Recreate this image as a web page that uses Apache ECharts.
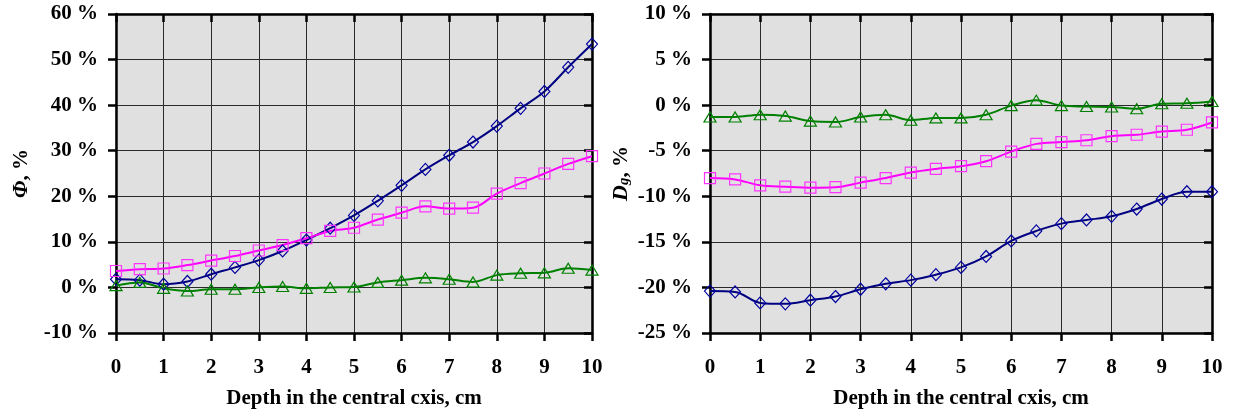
<!DOCTYPE html>
<html>
<head>
<meta charset="utf-8">
<script src="https://cdn.jsdelivr.net/npm/echarts@6/dist/echarts.min.js"></script>
<style>html,body{margin:0;padding:0;background:#fff}#c{width:1233px;height:414px}</style>
</head>
<body>
<div id="c"></div>
<script>
// ---- data ----
const depth = [0,0.5,1,1.5,2,2.5,3,3.5,4,4.5,5,5.5,6,6.5,7,7.5,8,8.5,9,9.5,10];
// left chart: Phi, %
const phiBlue  = [1.8,1.6,0.7,1.3,2.9,4.4,6.0,8.0,10.4,13.0,15.8,19.0,22.4,25.9,29.0,31.9,35.4,39.3,43.0,48.3,53.4];
const phiPink  = [3.6,4.0,4.15,4.9,5.9,6.9,8.1,9.3,10.8,12.4,13.1,14.9,16.4,17.8,17.3,17.5,20.6,22.9,25.0,27.1,28.8];
const phiGreen = [0.4,1.1,-0.2,-0.8,-0.4,-0.4,0.0,0.2,-0.2,0.0,0.1,1.1,1.6,2.1,1.8,1.2,2.7,3.1,3.2,4.2,3.8];
// right chart: Dg, %
const dgBlue  = [-20.4,-20.5,-21.7,-21.8,-21.4,-21.0,-20.2,-19.6,-19.2,-18.6,-17.8,-16.6,-14.9,-13.8,-13.0,-12.6,-12.2,-11.4,-10.3,-9.5,-9.5];
const dgPink  = [-8.0,-8.15,-8.8,-8.95,-9.05,-9.0,-8.5,-8.0,-7.4,-7.0,-6.7,-6.15,-5.1,-4.25,-4.05,-3.85,-3.4,-3.25,-2.9,-2.7,-1.9];
const dgGreen = [-1.3,-1.3,-1.05,-1.2,-1.75,-1.85,-1.3,-1.05,-1.65,-1.4,-1.4,-1.05,-0.05,0.55,-0.05,-0.15,-0.2,-0.4,0.15,0.2,0.4];
const xTicks = {min: 0, max: 10, interval: 1};
const phiTicks = {min: -10, max: 60, interval: 10};
const dgTicks = {min: -25, max: 10, interval: 5};
const xTitle = 'Depth in the central cxis, cm';

const FONT = '"Liberation Serif", "Times New Roman", serif';
const pairs = ys => depth.map((d, i) => [d, ys[i]]);

function xAx(grid, main) {
  return {
    type: 'value', gridIndex: grid, min: xTicks.min, max: xTicks.max, interval: xTicks.interval,
    name: main ? xTitle : '', nameLocation: 'middle', nameGap: 55,
    nameTextStyle: {fontFamily: FONT, fontWeight: 'bold', fontSize: 21, color: '#000'},
    axisLine: {show: true, onZero: false, lineStyle: {color: '#000', width: 2.5}},
    axisTick: {show: true, inside: !main, length: 8, lineStyle: {color: '#000', width: 2.5}},
    axisLabel: {show: main, margin: 24, fontFamily: FONT, fontWeight: 'bold', fontSize: 21, color: '#000'},
    splitLine: {show: main, lineStyle: {color: '#2a2a2a', width: 1}}
  };
}
function yAx(grid, main, t, nameRich, gap) {
  return {
    type: 'value', gridIndex: grid, min: t.min, max: t.max, interval: t.interval,
    name: main ? nameRich : '', nameLocation: 'middle', nameGap: gap, nameRotate: 90,
    nameTextStyle: {
      fontFamily: FONT, fontWeight: 'bold', fontSize: 21, color: '#000',
      rich: {
        i: {fontFamily: FONT, fontWeight: 'bold', fontStyle: 'italic', fontSize: 22, color: '#000', lineHeight: 24, verticalAlign: 'bottom'},
        s: {fontFamily: FONT, fontWeight: 'bold', fontStyle: 'italic', fontSize: 15, color: '#000', lineHeight: 20, verticalAlign: 'bottom'},
        n: {fontFamily: FONT, fontWeight: 'bold', fontSize: 21, color: '#000', lineHeight: 24, verticalAlign: 'bottom'}
      }
    },
    axisLine: {show: true, onZero: false, lineStyle: {color: '#000', width: 2.5}},
    axisTick: {show: true, inside: !main, length: 8, lineStyle: {color: '#000', width: 2.5}},
    axisLabel: {show: main, margin: 18, formatter: '{value} %', fontFamily: FONT, fontWeight: 'bold', fontSize: 21, color: '#000'},
    splitLine: {show: main, lineStyle: {color: '#2a2a2a', width: 1}}
  };
}
function ser(grid, ys, color, symbol, size, border) {
  return {
    type: 'line', xAxisIndex: grid * 2, yAxisIndex: grid * 2, data: pairs(ys),
    smooth: 0.35, symbol: symbol, symbolSize: size, showSymbol: true,
    lineStyle: {color: color, width: 2},
    itemStyle: {color: 'rgba(0,0,0,0)', borderColor: border, borderWidth: 1.2},
    emphasis: {disabled: true}, animation: false, z: 3
  };
}

const chart = echarts.init(document.getElementById('c'), null, {renderer: 'canvas'});
chart.setOption({
  animation: false,
  grid: [
    {left: 116, top: 14, width: 476, height: 320, show: true, backgroundColor: '#e0e0e0', borderColor: '#999', borderWidth: 1},
    {left: 710, top: 14, width: 502, height: 320, show: true, backgroundColor: '#e0e0e0', borderColor: '#999', borderWidth: 1}
  ],
  xAxis: [xAx(0, true), xAx(0, false), xAx(1, true), xAx(1, false)],
  yAxis: [
    yAx(0, true, phiTicks, '{i|Φ}{n|, %}', 84), yAx(0, false, phiTicks, '', 0),
    yAx(1, true, dgTicks, '{i|D}{s|g}{n|, %}', 78), yAx(1, false, dgTicks, '', 0)
  ],
  series: [
    ser(0, phiBlue, '#000080', 'diamond', [11, 12], '#0000a0'),
    ser(0, phiPink, '#ff00ff', 'rect', 11, '#ff33ff'),
    ser(0, phiGreen, '#008000', 'triangle', [12, 10], '#008000'),
    ser(1, dgBlue, '#000080', 'diamond', [11, 12], '#0000a0'),
    ser(1, dgPink, '#ff00ff', 'rect', 11, '#ff33ff'),
    ser(1, dgGreen, '#008000', 'triangle', [12, 10], '#008000')
  ]
});
</script>
</body>
</html>
